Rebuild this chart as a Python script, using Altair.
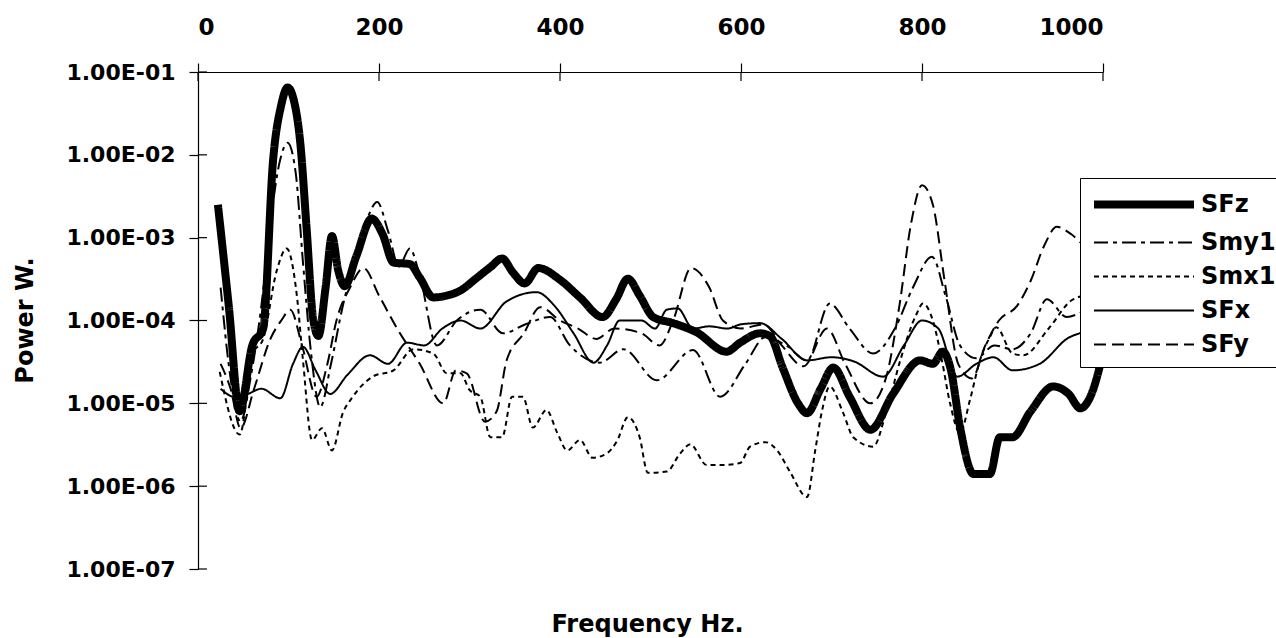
import altair as alt
import pandas as pd

# Power spectra of the five measured signals (frequency in Hz, power in W)
freq_SFz = [22, 34, 46, 60, 72, 83, 92, 99, 106, 113, 120, 127, 133, 141, 148, 155, 162, 175, 192, 204,
            216, 234, 245, 260, 275, 290, 307, 323, 336, 348, 361, 376, 400, 422, 447, 462, 475, 488, 503,
            525, 551, 584, 599, 621, 632, 646, 663, 673, 688, 702, 720, 743, 768, 798, 812, 823, 832, 842,
            857, 875, 886, 900, 920, 945, 962, 975, 986, 1000]
pow_SFz = [2.5e-3, 1.5e-4, 8e-6, 5e-5, 8e-5, 8.7e-3, 4e-2, 6.5e-2, 4.5e-2, 1.4e-2, 1.3e-3, 1.1e-4, 6.5e-5,
           2.5e-4, 1.05e-3, 4e-4, 2.6e-4, 6e-4, 1.7e-3, 1.1e-3, 5e-4, 4.8e-4, 3.3e-4, 1.9e-4, 2e-4, 2.3e-4,
           3.2e-4, 4.4e-4, 5.6e-4, 3.8e-4, 2.8e-4, 4.3e-4, 3.1e-4, 1.9e-4, 1.1e-4, 1.8e-4, 3.2e-4, 2e-4,
           1.1e-4, 9.3e-5, 7.2e-5, 4.2e-5, 5.4e-5, 7e-5, 6.5e-5, 2.7e-5, 1e-5, 7.6e-6, 1.5e-5, 2.7e-5,
           1.2e-5, 4.8e-6, 1.3e-5, 3.3e-5, 3e-5, 4.2e-5, 2.5e-5, 5.2e-6, 1.4e-6, 1.4e-6, 3.9e-6, 3.9e-6,
           8e-6, 1.6e-5, 1.3e-5, 8.7e-6, 1.2e-5, 4e-5]

freq_Smy1 = [25, 36, 47, 58, 70, 80, 90, 99, 108, 116, 125, 135, 147, 160, 175, 188, 198, 210, 222, 234,
             245, 264, 286, 312, 337, 362, 389, 411, 444, 470, 507, 547, 577, 605, 627, 650, 673, 698, 720,
             746, 770, 790, 811, 826, 842, 860, 880, 900, 920, 938, 960, 980, 1000]
pow_Smy1 = [2.5e-4, 2e-5, 6e-6, 2e-5, 1.5e-4, 1.5e-3, 8e-3, 1.4e-2, 6e-3, 5e-4, 4e-5, 9e-6, 3e-5, 1.5e-4,
            6e-4, 1.8e-3, 2.7e-3, 1.2e-3, 4.5e-4, 7.4e-4, 3.5e-4, 5e-5, 1e-4, 1.35e-4, 7e-5, 9e-5, 1.1e-4,
            5e-5, 3.1e-5, 4.5e-5, 1.9e-5, 4.4e-5, 1.2e-5, 3e-5, 6.3e-5, 5e-5, 3.3e-5, 1.6e-4, 8e-5, 4e-5,
            8e-5, 2.5e-4, 5.9e-4, 2e-4, 5e-5, 3.5e-5, 5e-5, 4.5e-5, 7e-5, 1.8e-4, 1.1e-4, 1.3e-4, 1.5e-4]

freq_Smx1 = [24, 46, 61, 72, 87, 98, 109, 116, 126, 137, 148, 160, 171, 193, 216, 238, 260, 275, 290, 300,
             312, 323, 336, 347, 359, 370, 385, 397, 408, 422, 436, 452, 463, 475, 488, 497, 518, 533, 544,
             562, 580, 599, 610, 627, 640, 654, 673, 682, 689, 698, 713, 724, 746, 761, 776, 794, 801, 812,
             822, 831, 842, 853, 864, 875, 882, 900, 912, 940, 967, 1000]
pow_Smx1 = [2.4e-5, 4.2e-6, 4e-5, 6e-5, 4e-4, 7.4e-4, 2.1e-4, 3.3e-5, 3.6e-6, 5e-6, 2.7e-6, 7.6e-6, 1.2e-5,
            2.1e-5, 2.5e-5, 4.5e-5, 4e-5, 2.3e-5, 2.3e-5, 1.45e-5, 1.2e-5, 3.9e-6, 3.9e-6, 1.2e-5, 1.2e-5,
            5.1e-6, 8.3e-6, 4.4e-6, 2.7e-6, 3.6e-6, 2.2e-6, 2.5e-6, 3.5e-6, 6.8e-6, 3.9e-6, 1.45e-6, 1.5e-6,
            2.5e-6, 3.2e-6, 1.8e-6, 1.8e-6, 1.9e-6, 3e-6, 3.4e-6, 2.7e-6, 1.5e-6, 7.4e-7, 2.7e-6, 7.6e-6,
            1.6e-5, 7.6e-6, 3.9e-6, 3e-6, 8.3e-6, 3.3e-5, 1.2e-4, 1.6e-4, 1e-4, 3.3e-5, 1e-5, 4.4e-6, 1.1e-5,
            3.3e-5, 6.3e-5, 8.3e-5, 4e-5, 3.8e-5, 8e-5, 1.8e-4, 2.2e-4]

freq_SFx = [25, 40, 55, 70, 91, 105, 116, 130, 146, 165, 190, 210, 231, 250, 270, 290, 312, 341, 374, 394,
            415, 437, 452, 466, 490, 505, 518, 530, 547, 565, 585, 600, 621, 645, 673, 700, 725, 757, 780,
            800, 818, 839, 860, 879, 900, 930, 960, 985, 1000]
pow_SFx = [1.5e-5, 1.2e-5, 1.3e-5, 1.5e-5, 1.15e-5, 3e-5, 4.8e-5, 2.5e-5, 1.3e-5, 2.2e-5, 3.8e-5, 3e-5,
           5.4e-5, 5e-5, 8e-5, 1e-4, 8e-5, 1.7e-4, 2.2e-4, 1.5e-4, 7e-5, 3.1e-5, 5e-5, 1e-4, 1e-4, 8e-5,
           1.35e-4, 1.4e-4, 8e-5, 8.5e-5, 8e-5, 9e-5, 9.3e-5, 6e-5, 3.3e-5, 3.6e-5, 3.2e-5, 2.1e-5, 5e-5,
           1e-4, 8e-5, 2.1e-5, 3e-5, 3.6e-5, 2.5e-5, 3e-5, 6e-5, 8e-5, 1.1e-4]

freq_SFy = [25, 36, 47, 62, 80, 92, 102, 115, 131, 143, 153, 168, 183, 200, 220, 245, 271, 285, 297, 317,
            330, 341, 360, 378, 400, 420, 440, 460, 490, 510, 525, 545, 565, 580, 600, 625, 645, 669, 695,
            715, 743, 760, 775, 788, 800, 812, 825, 840, 855, 870, 885, 905, 920, 935, 949, 965, 980, 1000]
pow_SFy = [3e-5, 1.5e-5, 5e-6, 1.5e-5, 6e-5, 1e-4, 1.35e-4, 5e-5, 1.2e-5, 3e-5, 1e-4, 2.5e-4, 4.3e-4, 2e-4,
           8e-5, 3e-5, 1e-5, 2.5e-5, 2.3e-5, 6e-6, 8e-6, 3.3e-5, 7e-5, 1.45e-4, 1e-4, 8e-5, 6e-5, 8e-5, 7e-5,
           5e-5, 1e-4, 4.3e-4, 2.5e-4, 1e-4, 8e-5, 9e-5, 5e-5, 2.8e-5, 8e-5, 3e-5, 1e-5, 2e-5, 1.5e-4,
           1.5e-3, 4.3e-3, 2.5e-3, 3e-4, 3e-5, 2e-5, 5e-5, 1e-4, 1.5e-4, 3e-4, 8e-4, 1.35e-3, 1.1e-3, 8e-4,
           7e-4]

series_names = ["SFz", "Smy1", "Smx1", "SFx", "SFy"]
series_dash = [[1, 0], [14, 5, 4, 5], [5, 4], [1, 0], [12, 6]]
series_width = [8, 2, 2, 2, 2]

x_ticks = [0, 200, 400, 600, 800, 1000]
y_ticks = [1e-1, 1e-2, 1e-3, 1e-4, 1e-5, 1e-6, 1e-7]

spectra = {
    "SFz": (freq_SFz, pow_SFz),
    "Smy1": (freq_Smy1, pow_Smy1),
    "Smx1": (freq_Smx1, pow_Smx1),
    "SFx": (freq_SFx, pow_SFx),
    "SFy": (freq_SFy, pow_SFy),
}
rows = []
for name in series_names:
    fs, ps = spectra[name]
    for f, p in zip(fs, ps):
        rows.append({"series": name, "freq": f, "power": p})
df = pd.DataFrame(rows)

FONT = "DejaVu Sans"

x_scale = alt.Scale(domain=[0, 1000], nice=False, zero=False)
y_scale = alt.Scale(type="log", domain=[1e-7, 1e-1], nice=False)

# long horizontal line sample for each legend entry
legend = alt.Legend(
    title=None, orient="none", legendX=882, legendY=106,
    symbolType="M-1,0H7", symbolSize=625, symbolStrokeColor="black",
    labelFont=FONT, labelFontWeight="bold", labelFontSize=24, labelColor="black",
    labelOffset=78, rowPadding=8, padding=10,
    strokeColor="black", fillColor="white",
)

lines = alt.Chart(df).mark_line(color="black", interpolate="monotone").encode(
    x=alt.X("freq:Q", scale=x_scale,
            axis=alt.Axis(orient="top", values=x_ticks, format="d", title="Frequency Hz.",
                          labelFont=FONT, labelFontWeight="bold", labelFontSize=23, labelPadding=24,
                          titleX=449, titleY=559, titleBaseline="alphabetic", titleAlign="center",
                          titleFont=FONT, titleFontWeight="bold", titleFontSize=24)),
    y=alt.Y("power:Q", scale=y_scale,
            axis=alt.Axis(orient="left", values=y_ticks,
                          labelExpr="'1.00E-0' + (-round(log(datum.value) / LN10))",
                          labelFont=FONT, labelFontWeight="bold", labelFontSize=22, labelPadding=14,
                          title="Power W.", titleAngle=270, titleX=-173, titleY=248,
                          titleBaseline="middle", titleAlign="center",
                          titleFont=FONT, titleFontWeight="bold", titleFontSize=24)),
    strokeDash=alt.StrokeDash("series:N", sort=series_names,
                              scale=alt.Scale(domain=series_names, range=series_dash), legend=legend),
    strokeWidth=alt.StrokeWidth("series:N", sort=series_names,
                                scale=alt.Scale(type="ordinal", domain=series_names, range=series_width),
                                legend=legend),
)

# inner halves of the cross-shaped tick marks
x_inner = alt.Chart(pd.DataFrame({"freq": x_ticks})).mark_rule(color="black", strokeWidth=1.2).encode(
    x=alt.X("freq:Q", scale=x_scale), y=alt.value(0), y2=alt.value(9))
y_inner = alt.Chart(pd.DataFrame({"power": y_ticks})).mark_rule(color="black", strokeWidth=1.2).encode(
    y=alt.Y("power:Q", scale=y_scale), x=alt.value(0), x2=alt.value(9))

chart = alt.layer(lines, x_inner, y_inner).properties(
    width=905, height=497,
    autosize=alt.AutoSizeParams(type="none"),
    padding={"left": 198, "top": 72, "right": 173, "bottom": 69},
    background="white",
).configure_view(stroke=None).configure_axis(
    grid=False, domainColor="black", domainWidth=1.2, tickColor="black", tickWidth=1.2,
    tickSize=9, labelColor="black", titleColor="black",
)

chart.save("out.html", embed_options={"renderer": "svg", "actions": False})
